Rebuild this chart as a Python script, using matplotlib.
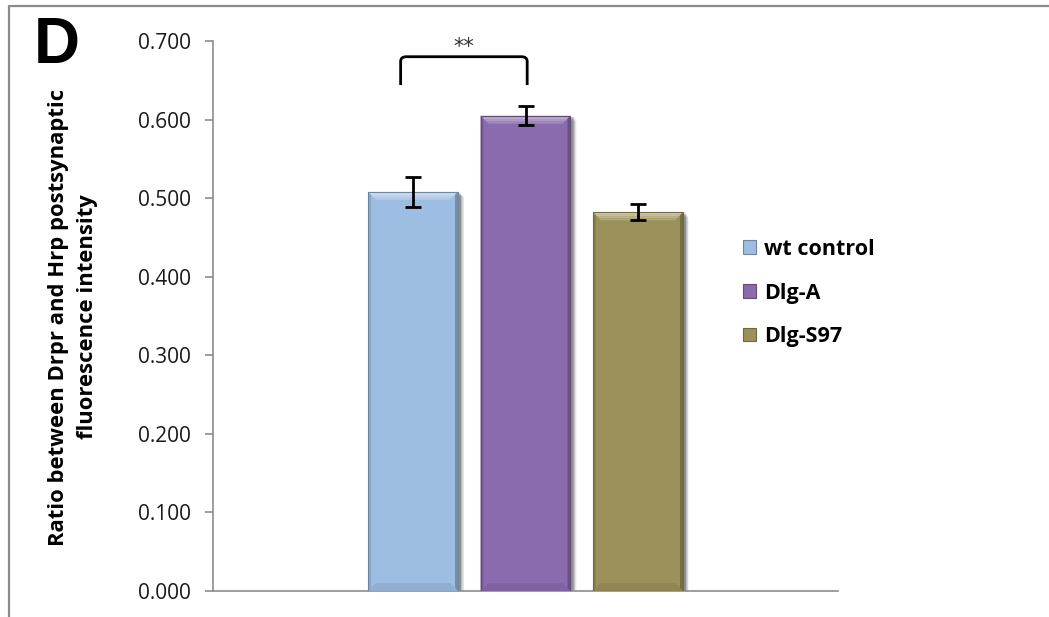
import matplotlib
matplotlib.use("Agg")
import matplotlib.pyplot as plt
import numpy as np
from matplotlib.patches import Polygon, Rectangle, PathPatch
from matplotlib.path import Path
from matplotlib.transforms import IdentityTransform
from matplotlib.colors import to_rgb

# ---- data ----
groups = ["wt control", "Dlg-A", "Dlg-S97"]
means = [0.508, 0.605, 0.482]
errors = [0.019, 0.012, 0.010]
colors = ["#9EBDE3", "#8A6CAE", "#9C915A"]
y_ticks = [0.0, 0.1, 0.2, 0.3, 0.4, 0.5, 0.6, 0.7]
y_label = "Ratio between Drpr and Hrp postsynaptic\nfluorescence intensity"
panel_letter = "D"
sig_pair = (0, 1)
sig_text = "**"

W, H = 1049, 617
fig = plt.figure(figsize=(W / 100, H / 100), dpi=100)
ax = fig.add_axes([213 / W, 26 / H, 625 / W, 550 / H])

offsets = np.arange(len(groups)) - (len(groups) - 1) / 2
bar_w = 0.8
bars = ax.bar(offsets, means, width=bar_w, color=colors, zorder=3,
              edgecolor="none")
ax.errorbar(offsets, means, yerr=errors, fmt="none", ecolor="black",
            elinewidth=2, capsize=6, capthick=2, zorder=6)

ax.set_xlim(-2.778, 2.778)
ax.set_ylim(0, 0.7)
ax.set_yticks(y_ticks)
ax.set_yticklabels([f"{v:.3f}" for v in y_ticks], fontfamily="Open Sans",
                   fontsize=15, color="#1a1a1a")
ax.set_xticks([])
for s in ["top", "right"]:
    ax.spines[s].set_visible(False)
for s in ["left", "bottom"]:
    ax.spines[s].set_color("#8c8c8c")
    ax.spines[s].set_linewidth(1.2)
ax.tick_params(axis="y", direction="out", length=6, width=1.2,
               color="#8c8c8c", pad=10)

fig.canvas.draw()


def shade(c, f):
    r, g, b = to_rgb(c)
    if f >= 0:
        return (r + (1 - r) * f, g + (1 - g) * f, b + (1 - b) * f)
    return (r * (1 + f), g * (1 + f), b * (1 + f))


# bevelled look: drop shadow, lighter top face, darker sides and base
for rect, c in zip(bars, colors):
    x0, y0, x1, y1 = rect.get_window_extent().extents
    for k, a in zip(range(6, 0, -1), [0.04, 0.06, 0.08, 0.1, 0.12, 0.14]):
        ax.add_patch(Rectangle((x0 + 2, y0 - k * 0.9), (x1 - x0) + k * 0.7,
                               (y1 - y0), transform=IdentityTransform(),
                               facecolor="black", alpha=a, edgecolor="none",
                               zorder=2))
    b = 8
    # top face drawn as a few strips fading from light to the base colour
    for s in range(4):
        t0 = s * b / 4
        t1 = (s + 1) * b / 4
        pts = [(x0 + t0, y1 - t0), (x1 - t0, y1 - t0),
               (x1 - t1, y1 - t1), (x0 + t1, y1 - t1)]
        ax.add_patch(Polygon(pts, closed=True, transform=IdentityTransform(),
                             facecolor=shade(c, 0.55 - 0.12 * s),
                             edgecolor="none", zorder=4))
    polys = [
        ([(x0, y0), (x1, y0), (x1 - b, y0 + b), (x0 + b, y0 + b)], shade(c, -0.08)),
        ([(x0, y0), (x0 + 3, y0 + 3), (x0 + 3, y1 - 3), (x0, y1)], shade(c, -0.12)),
        ([(x1, y0), (x1 - 3, y0 + 3), (x1 - 3, y1 - 3), (x1, y1)], shade(c, -0.25)),
    ]
    for pts, fc in polys:
        ax.add_patch(Polygon(pts, closed=True, transform=IdentityTransform(),
                             facecolor=fc, edgecolor="none", zorder=4))
    ax.add_patch(Rectangle((x0, y0), x1 - x0, y1 - y0,
                           transform=IdentityTransform(), facecolor="none",
                           edgecolor=shade(c, -0.3), linewidth=0.8, zorder=5))

# significance bracket
i, j = sig_pair
xl = offsets[i] - 0.11
xr = offsets[j] + 0.015
y_top, y_end = 0.680, 0.644
r = 0.006
verts = [(xl, y_end), (xl, y_top - r), (xl, y_top), (xl + 0.05, y_top),
         (xr - 0.05, y_top), (xr, y_top), (xr, y_top - r), (xr, y_end)]
codes = [Path.MOVETO, Path.LINETO, Path.CURVE3, Path.CURVE3,
         Path.LINETO, Path.CURVE3, Path.CURVE3, Path.LINETO]
ax.add_patch(PathPatch(Path(verts, codes), facecolor="none",
                       edgecolor="black", linewidth=2, clip_on=False, zorder=6))
ax.text((xl + xr) / 2, y_top + 0.0, sig_text, ha="center", va="bottom",
        fontsize=15, color="#333333", fontfamily="DejaVu Sans",
        clip_on=False)

# legend
handles = [Rectangle((0, 0), 1, 1, facecolor=c, edgecolor=shade(c, -0.3),
                     linewidth=0.8) for c in colors]
leg = fig.legend(handles, groups, loc="center left",
                 bbox_to_anchor=(734 / W, 1 - 293 / H), frameon=False,
                 prop={"family": "Open Sans", "weight": "bold", "size": 15.5},
                 handlelength=0.6, handleheight=0.6, handletextpad=0.4,
                 labelspacing=1.05, borderaxespad=0)

# axis title and panel letter
fig.text(73 / W, 1 - 317 / H, y_label, rotation=90, ha="center", va="center",
         multialignment="center", fontfamily="Open Sans", fontweight="bold",
         fontsize=15.8, linespacing=1.5)
fig.text(34 / W, 1 - 63 / H, panel_letter, ha="left", va="baseline",
         fontfamily="Liberation Sans", fontweight="bold", fontsize=46)

# panel frame
fig.add_artist(plt.Line2D([8.5 / W, 8.5 / W, 1], [0, 1 - 5.5 / H, 1 - 5.5 / H],
                          transform=fig.transFigure, color="#8a8a8a",
                          linewidth=1.6))

fig.savefig("out.png", dpi=100)
